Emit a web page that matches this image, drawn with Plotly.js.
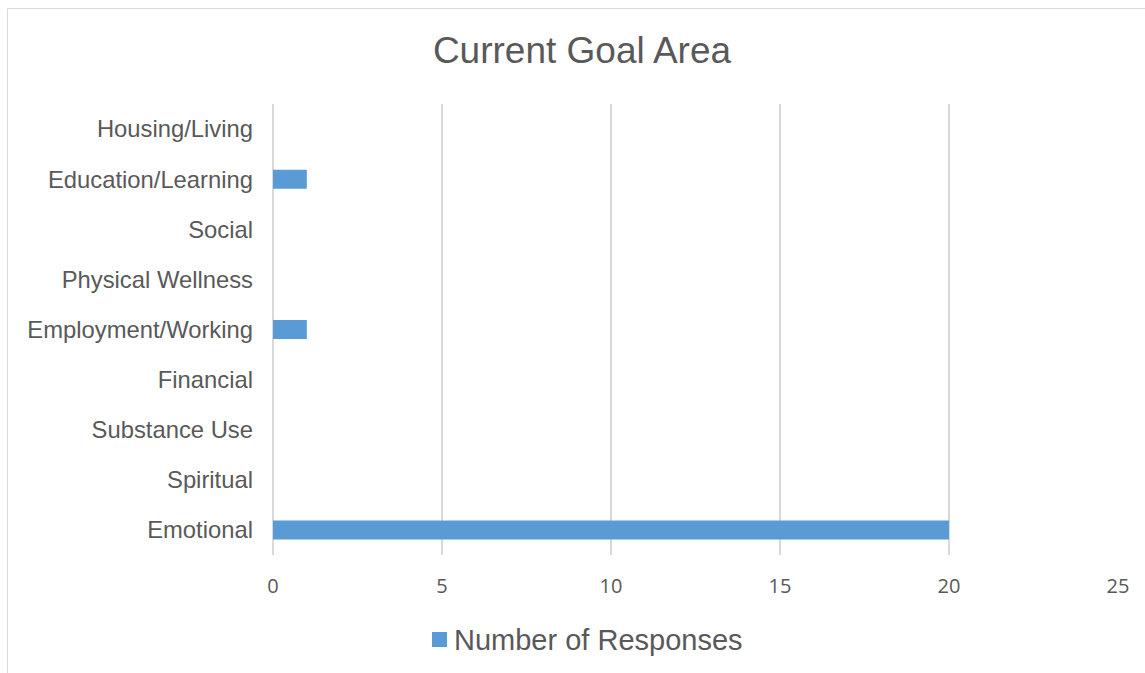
<!DOCTYPE html>
<html>
<head>
<meta charset="utf-8">
<script src="https://cdn.plot.ly/plotly-3.0.1.min.js"></script>
<style>
  html, body { margin: 0; padding: 0; background: #ffffff; }
  #chart { width: 1145px; height: 673px; }
</style>
</head>
<body>
<div id="chart"></div>
<script>
// Goal areas, listed bottom to top as they appear on the axis
const categories = [
  "Emotional",
  "Spiritual",
  "Substance Use",
  "Financial",
  "Employment/Working",
  "Physical Wellness",
  "Social",
  "Education/Learning",
  "Housing/Living"
];
const responses = [20, 0, 0, 0, 1, 0, 0, 1, 0];
const seriesName = "Number of Responses";
const xTicks = [0, 5, 10, 15, 20, 25];

const textColor = "#595959";
const gridColor = "#D9D9D9";
const barColor = "#5B9BD5";
const sansFont = "Arial, 'Liberation Sans', sans-serif";

const W = 1145, H = 673;
const margin = { l: 273, r: 27, t: 104, b: 118 };
const plotW = W - margin.l - margin.r;
const plotH = H - margin.t - margin.b;

// paper coordinates from pixel positions
const px = v => (v - margin.l) / plotW;
const py = v => 1 - (v - margin.t) / plotH;

const trace = {
  type: "bar",
  orientation: "h",
  name: seriesName,
  y: categories,
  x: responses,
  marker: { color: barColor },
  showlegend: false,
  hoverinfo: "x+y"
};

const layout = {
  width: W,
  height: H,
  margin: margin,
  paper_bgcolor: "#ffffff",
  plot_bgcolor: "#ffffff",
  bargap: 0.62,
  title: {
    text: "Current Goal Area",
    font: { family: sansFont, size: 37, color: textColor },
    xref: "container", x: 582 / W, xanchor: "center",
    yref: "container", y: 1 - 50 / H, yanchor: "middle"
  },
  xaxis: {
    range: [0, 25.001],
    tickvals: xTicks,
    ticktext: xTicks.map(String),
    showgrid: true,
    gridcolor: gridColor,
    gridwidth: 1.5,
    zeroline: true,
    zerolinecolor: gridColor,
    zerolinewidth: 1.5,
    showline: false,
    ticks: "",
    ticklabelstandoff: 17,
    tickfont: { family: "Open Sans, sans-serif", size: 20, color: textColor },
    fixedrange: true
  },
  yaxis: {
    type: "category",
    categoryorder: "array",
    categoryarray: categories,
    showgrid: false,
    zeroline: false,
    showline: false,
    ticks: "",
    ticklabelstandoff: 19,
    tickfont: { family: sansFont, size: 23.8, color: textColor },
    fixedrange: true
  },
  // series key drawn below the plot
  annotations: [{
    xref: "paper", yref: "paper",
    x: px(452), xanchor: "left",
    y: py(640), yanchor: "middle",
    text: seriesName,
    showarrow: false,
    font: { family: sansFont, size: 29, color: textColor }
  }],
  shapes: [
    {
      type: "rect",
      xref: "paper", yref: "paper",
      x0: px(432), x1: px(447),
      y0: py(647), y1: py(632),
      line: { width: 0 },
      fillcolor: barColor
    },
    {
      type: "rect",
      xref: "paper", yref: "paper",
      x0: px(7.5), x1: px(W + 20),
      y0: py(H + 20), y1: py(8.5),
      line: { color: gridColor, width: 1 },
      fillcolor: "rgba(0,0,0,0)",
      layer: "below"
    }
  ]
};

Plotly.newPlot("chart", [trace], layout, { displayModeBar: false, staticPlot: true });
</script>
</body>
</html>
